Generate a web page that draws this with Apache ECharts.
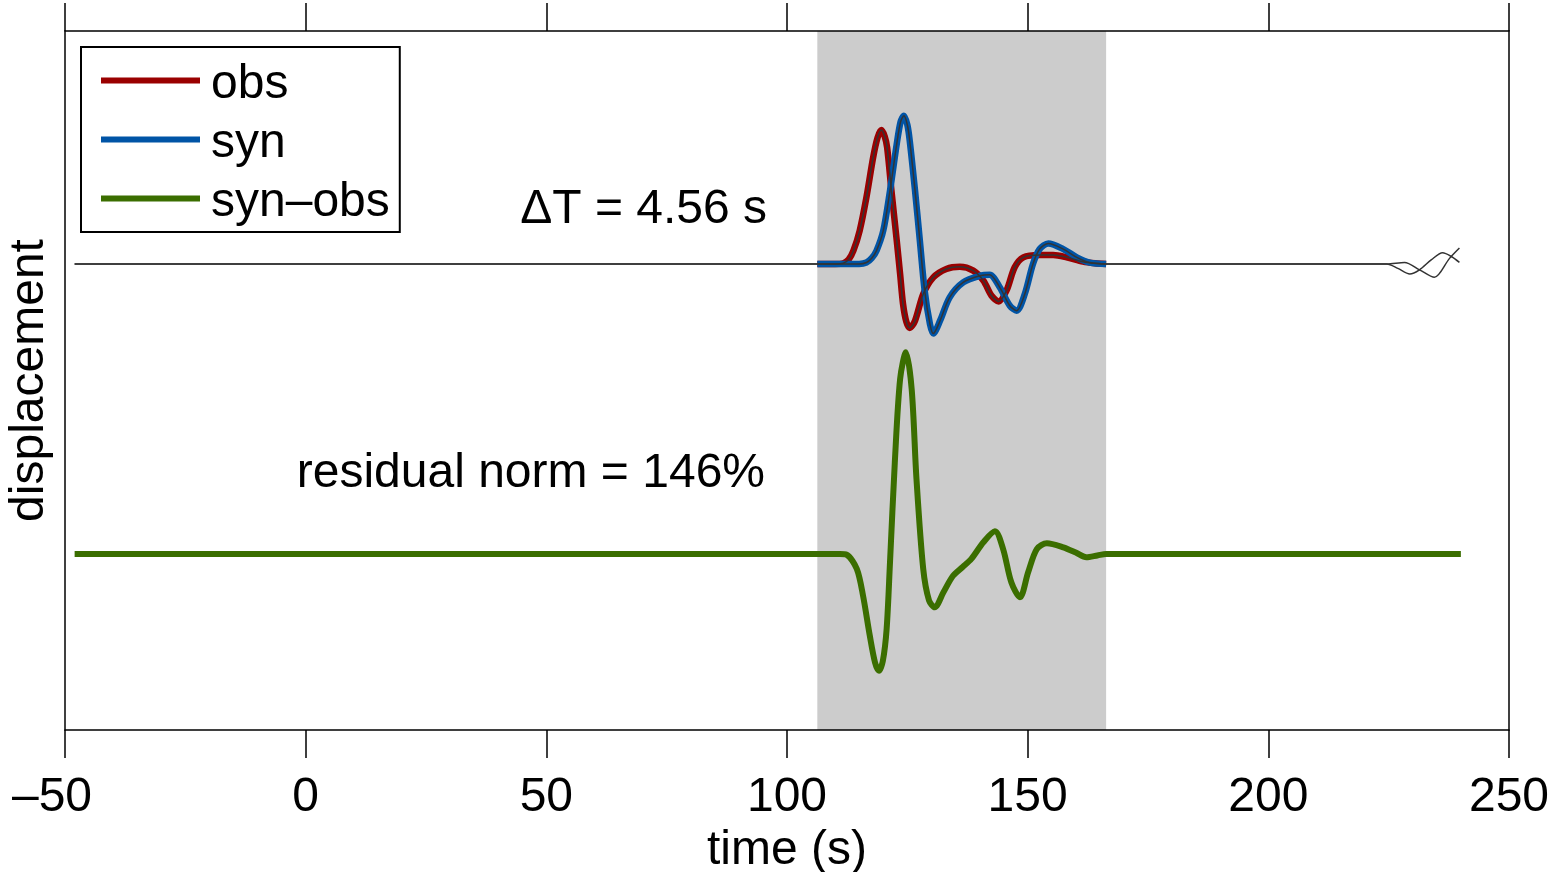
<!DOCTYPE html>
<html>
<head>
<meta charset="utf-8">
<script src="https://cdn.jsdelivr.net/npm/echarts@6/dist/echarts.min.js"></script>
<style>
  html, body { margin: 0; padding: 0; background: #fff; }
  #chart { width: 1551px; height: 872px; }
</style>
</head>
<body>
<div id="chart"></div>
<script>
// time samples (s) and displacement amplitudes
var obsTime = [-48, 106.3, 110, 111.7, 112.8, 113.8, 115.1, 116.5, 117.9, 118.8, 119.6, 120.3, 120.8, 121.7, 122.8, 123.5, 124.1, 124.8, 125.5, 126.6, 128.3, 130.4, 133.1, 135.9, 138.7, 140.8, 142.5, 144.0, 145.6, 147.3, 149.1, 152.5, 155.3, 158.1, 161.5, 164, 166.3, 200, 224.6, 226.9, 229.4, 231.4, 233.9, 236.2, 238.1, 239.7];
var obsAmp = [0, 0, 0, 0.005, 0.03, 0.092, 0.23, 0.459, 0.735, 0.87, 0.924, 0.88, 0.804, 0.506, 0.161, -0.069, -0.274, -0.40, -0.441, -0.391, -0.207, -0.092, -0.034, -0.019, -0.046, -0.115, -0.219, -0.258, -0.184, -0.023, 0.046, 0.062, 0.062, 0.046, 0.016, 0.005, 0, 0, 0, -0.03, -0.069, -0.04, 0.03, 0.077, 0.05, 0.011];

var synTime = [-48, 106.3, 115, 116.5, 117.6, 118.6, 120.0, 121.4, 122.8, 123.6, 124.3, 125.0, 125.5, 126.6, 127.6, 128.6, 129.7, 130.4, 131.8, 133.8, 136.6, 140.1, 142.1, 144.2, 146.3, 147.7, 149.4, 151.1, 152.5, 154.3, 157.4, 160.2, 162.9, 166.3, 200, 224.6, 228.3, 231.4, 234.5, 237.6, 239.7];
var synAmp = [0, 0, 0, 0.01, 0.04, 0.092, 0.23, 0.506, 0.828, 0.98, 1.023, 0.96, 0.85, 0.506, 0.161, -0.184, -0.414, -0.479, -0.391, -0.23, -0.127, -0.081, -0.074, -0.161, -0.288, -0.322, -0.207, 0, 0.103, 0.142, 0.103, 0.046, 0.01, 0, 0, 0, 0.01, -0.04, -0.092, 0.037, 0.11];

var resTime = [-48, 106.3, 111, 112.4, 114.5, 115.8, 117.2, 118.3, 119.1, 119.9, 120.7, 121.4, 122.4, 123.5, 124.7, 125.9, 126.9, 128.3, 129.5, 130.7, 132.5, 134.5, 136.5, 138.3, 140.8, 143.2, 144.9, 146.6, 148.4, 150.1, 151.9, 154.0, 157.4, 160, 162.2, 164.5, 166.3, 240];
var resAmp = [0, 0, 0, -0.005, -0.103, -0.288, -0.563, -0.75, -0.805, -0.74, -0.517, -0.057, 0.632, 1.207, 1.391, 1.138, 0.517, -0.103, -0.32, -0.368, -0.264, -0.15, -0.09, -0.034, 0.081, 0.157, 0.034, -0.195, -0.299, -0.126, 0.034, 0.074, 0.046, 0.01, -0.023, -0.01, 0, 0];

var WINDOW = [106.3, 166.3];       // measurement window (s)
var TRACE_OFFSET = 1;              // obs / syn plotted above
var RESID_OFFSET = -1;             // residual plotted below
var xTicks = [-50, 0, 50, 100, 150, 200, 250];

var FONT = 'Liberation Sans, Arial, Helvetica, sans-serif';
var RED = '#9a0000', BLUE = '#0054a6', GREEN = '#3b6e00';

function pairs(t, a, off, win) {
  var out = [];
  for (var i = 0; i < t.length; i++) {
    if (win && (t[i] < win[0] || t[i] > win[1])) continue;
    out.push([t[i], a[i] + off]);
  }
  return out;
}

var dom = document.getElementById('chart');
var myChart = echarts.init(dom, null, { renderer: 'canvas' });

var xCommon = {
  type: 'value',
  min: xTicks[0],
  max: xTicks[xTicks.length - 1],
  interval: 50,
  z: 10,
  splitLine: { show: false },
  axisLine: { show: true, onZero: false, lineStyle: { color: '#000', width: 1.5 } },
  axisTick: { show: true, inside: false, length: 28, lineStyle: { color: '#000', width: 1.5 } }
};

var option = {
  animation: false,
  backgroundColor: '#fff',
  grid: { left: 65, right: 42, top: 31, bottom: 142, containLabel: false, outerBoundsMode: 'none' },
  legend: {
    orient: 'vertical',
    left: 81,
    top: 47,
    icon: 'rect',
    itemWidth: 99,
    itemHeight: 6,
    itemGap: 2,
    padding: [5, 10, 5, 20],
    borderColor: '#000',
    borderWidth: 2,
    backgroundColor: '#fff',
    selectedMode: false,
    formatter: '{t|{name}}',
    textStyle: {
      fontSize: 48, fontFamily: FONT, color: '#000',
      rich: { t: { fontSize: 48, fontFamily: FONT, color: '#000', lineHeight: 48, padding: [9, 0, 0, 6] } }
    },
    data: ['obs', 'syn', 'syn\u2013obs']
  },
  xAxis: [
    Object.assign({}, xCommon, {
      position: 'bottom',
      name: 'time (s)',
      nameLocation: 'middle',
      nameGap: 91,
      nameTextStyle: { fontSize: 48, fontFamily: FONT, color: '#000' },
      axisLabel: {
        margin: 44,
        fontSize: 48,
        fontFamily: FONT,
        color: '#000',
        formatter: function (v) { return v < 0 ? '{neg|\u2013' + Math.abs(v) + '}' : String(v); },
        rich: { neg: { fontSize: 48, fontFamily: FONT, color: '#000', padding: [0, 26, 0, 0] } }
      }
    }),
    Object.assign({}, xCommon, { position: 'top', axisLabel: { show: false } })
  ],
  yAxis: [
    {
      type: 'value', min: -2.214, max: 2.607, position: 'left', z: 10,
      name: 'displacement', nameLocation: 'middle', nameGap: 11, nameRotate: 90,
      nameTextStyle: { fontSize: 48, fontFamily: FONT, color: '#000' },
      splitLine: { show: false }, axisTick: { show: false }, axisLabel: { show: false },
      axisLine: { show: true, onZero: false, lineStyle: { color: '#000', width: 1.5 } }
    },
    {
      type: 'value', min: -2.214, max: 2.607, position: 'right', z: 10,
      splitLine: { show: false }, axisTick: { show: false }, axisLabel: { show: false },
      axisLine: { show: true, onZero: false, lineStyle: { color: '#000', width: 1.5 } }
    }
  ],
  graphic: [
    { type: 'text', right: 1551 - 767, top: 186, z: 20,
      style: { text: '\u0394T = 4.56 s', fontSize: 48, fontFamily: FONT, fill: '#000' } },
    { type: 'text', right: 1551 - 765, top: 450, z: 20,
      style: { text: 'residual norm = 146%', fontSize: 48, fontFamily: FONT, fill: '#000' } }
  ],
  series: [
    {
      name: 'window', type: 'line', data: [], z: 1,
      markArea: {
        silent: true,
        itemStyle: { color: '#cccccc' },
        data: [[{ xAxis: WINDOW[0] }, { xAxis: WINDOW[1] }]]
      }
    },
    {
      name: 'syn\u2013obs', type: 'line', z: 3, smooth: 0.3, showSymbol: false, symbol: 'none',
      itemStyle: { color: GREEN }, lineStyle: { color: GREEN, width: 6 },
      data: pairs(resTime, resAmp, RESID_OFFSET)
    },
    {
      name: 'obs', type: 'line', z: 3, smooth: 0.3, showSymbol: false, symbol: 'none',
      itemStyle: { color: RED }, lineStyle: { color: RED, width: 6.5 },
      data: pairs(obsTime, obsAmp, TRACE_OFFSET, WINDOW)
    },
    {
      name: 'syn', type: 'line', z: 4, smooth: 0.3, showSymbol: false, symbol: 'none',
      itemStyle: { color: BLUE }, lineStyle: { color: BLUE, width: 6.5 },
      data: pairs(synTime, synAmp, TRACE_OFFSET, WINDOW)
    },
    {
      name: 'obs trace', type: 'line', z: 5, smooth: 0.3, showSymbol: false, symbol: 'none',
      lineStyle: { color: '#333', width: 1.5 },
      data: pairs(obsTime, obsAmp, TRACE_OFFSET)
    },
    {
      name: 'syn trace', type: 'line', z: 5, smooth: 0.3, showSymbol: false, symbol: 'none',
      lineStyle: { color: '#333', width: 1.5 },
      data: pairs(synTime, synAmp, TRACE_OFFSET)
    }
  ]
};

myChart.setOption(option);
</script>
</body>
</html>
